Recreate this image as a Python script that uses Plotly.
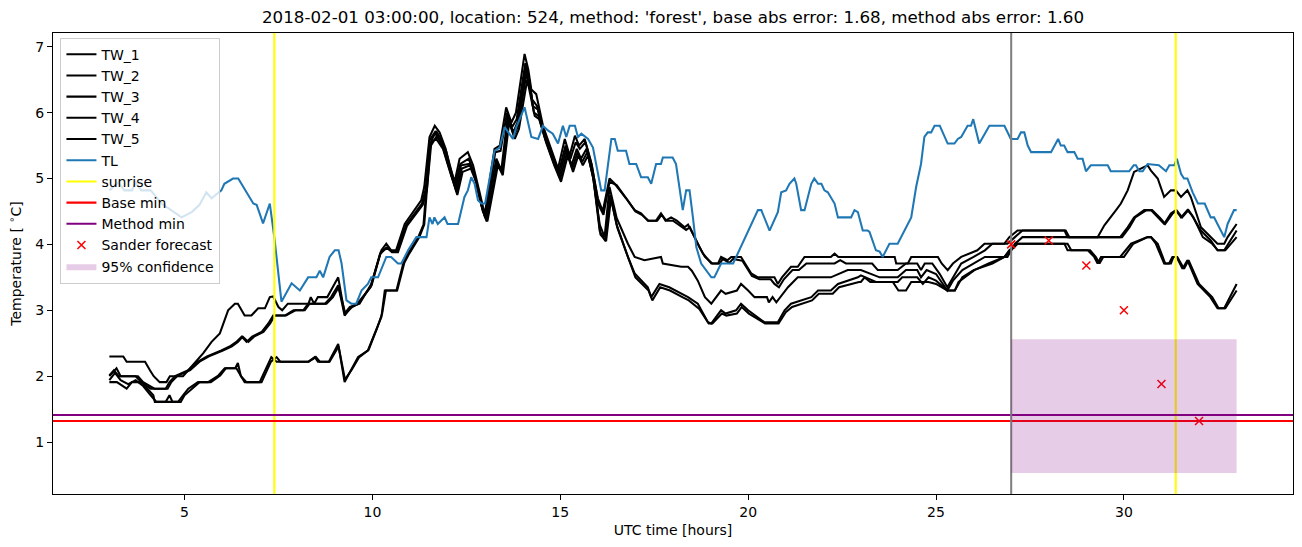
import plotly.graph_objects as go

# ---------------- data (hours UTC, temperature degC) ----------------
TW_1 = [(3.0,2.30),(3.37,2.30),(3.46,2.22),(3.95,2.22),(4.08,2.09),(4.18,2.0),(4.34,1.91),(4.52,1.91),(4.61,2.0),(4.96,2.0),(5.1,2.09),(5.27,2.2),(5.5,2.35),(5.72,2.52),(5.94,2.65),(6.16,3.0),(6.34,3.1),(6.42,3.1),(6.6,2.92),(6.78,2.92),(6.96,3.03),(7.14,3.03),(7.27,3.2),(7.36,3.21),(7.5,3.05),(7.6,3.0),(7.75,3.1),(8.3,3.1),(8.36,3.2),(8.45,3.1),(8.55,3.2),(8.8,3.2),(9.09,3.5),(9.26,2.95),(9.4,3.05),(9.66,3.1),(9.97,3.4),(10.24,3.91),(10.37,4.01),(10.5,3.91),(10.63,3.91),(10.86,4.31),(11.12,4.52),(11.3,4.67),(11.38,4.87),(11.52,5.63),(11.66,5.8),
        (11.79,5.7),(11.95,5.45),(12.05,5.2),(12.19,4.95),(12.32,5.3),(12.54,5.4),(12.68,5.2),(12.85,4.8),(12.99,4.45),(13.16,5.12),(13.25,5.45),(13.39,5.5),(13.56,6.08),(13.7,5.85),(13.82,6.0),(14.05,6.89),(14.15,6.65),(14.23,6.35),(14.36,6.28),(14.54,5.8),(14.75,5.45),(14.94,5.15),(15.12,5.6),(15.25,5.35),(15.39,5.65),(15.5,5.5),(15.65,5.6),(15.82,5.25),(16.0,4.7),(16.13,4.5),(16.31,5.0),
        (16.45,4.92),(16.75,4.7),(16.98,4.52),(17.15,4.47),(17.33,4.36),(17.55,4.36),(17.68,4.47),(17.8,4.36),(17.95,4.41),(18.1,4.36),(18.31,4.26),(18.4,4.3),(18.66,4.01),(18.8,3.86),(19.02,3.71),(19.2,3.71),(19.28,3.81),(19.45,3.76),(19.55,3.81),(19.81,3.81),(20.08,3.56),(20.26,3.5),(20.7,3.5),(20.79,3.40),(20.9,3.5),(21.14,3.66),(21.32,3.66),(21.5,3.81),(22.2,3.81),(22.3,3.86),(22.4,3.81),(23.0,3.81),
        (23.9,3.81),(23.94,3.71),(24.25,3.71),(24.34,3.81),(25.05,3.81),(25.15,3.71),(25.31,3.61),(25.45,3.71),(25.67,3.81),(26.1,3.91),(26.29,4.01),(26.82,4.01),(26.95,4.11),(27.17,4.21),(28.42,4.21),
        (28.5,4.11),(29.3,4.11),(29.48,4.29),(29.65,4.41),(29.79,4.52),(29.92,4.62),(30.1,4.82),(30.27,5.1),(30.45,5.15),(30.63,5.2),(30.72,5.12),(30.9,5.0),(31.07,4.72),(31.25,4.82),(31.38,4.82),(31.52,4.72),(31.69,4.82),(31.78,4.72),(32.05,4.26),(32.31,4.11),(32.49,4.01),(32.67,4.01),(32.76,4.11),(33.0,4.31)]

TW_2 = [(3.0,2.0),(3.19,2.12),(3.3,2.0),(3.76,2.0),(3.9,1.91),(4.2,1.81),(4.5,1.81),(4.6,1.91),(4.75,2.0),(5.1,2.09),(5.36,2.22),(5.6,2.3),(5.98,2.39),(6.2,2.45),(6.38,2.52),(6.52,2.6),(6.65,2.52),(6.8,2.6),(7.05,2.67),(7.23,2.8),(7.36,2.92),(7.67,2.92),(7.9,3.0),(8.16,3.0),(8.29,3.1),(8.74,3.1),(8.9,3.2),(9.09,3.38),(9.26,2.92),(9.44,3.05),(9.6,3.1),(9.95,3.35),(10.2,3.85),(10.37,3.95),(10.5,3.9),(10.65,3.9),(10.9,4.3),(11.15,4.5),(11.32,4.62),(11.42,4.85),(11.55,5.55),(11.7,5.72),
        (11.82,5.6),(11.97,5.4),(12.08,5.15),(12.2,4.9),(12.34,5.22),(12.56,5.3),(12.7,5.1),(12.87,4.7),(13.0,4.4),(13.18,5.05),(13.27,5.4),(13.41,5.42),(13.58,6.0),(13.72,5.78),(13.84,5.9),(14.07,6.75),(14.17,6.5),(14.25,6.2),(14.38,6.1),(14.56,5.7),(14.77,5.4),(14.96,5.1),(15.14,5.5),(15.27,5.3),(15.41,5.55),(15.52,5.45),(15.67,5.55),(15.84,5.2),(16.02,4.6),(16.15,4.45),(16.31,4.95),
        (16.5,4.9),(16.78,4.68),(17.0,4.5),(17.17,4.45),(17.35,4.36),(17.58,4.36),(17.7,4.45),(17.82,4.36),(18.0,4.36),(18.35,4.22),(18.45,4.26),(18.7,3.96),(18.85,3.81),(19.05,3.71),(19.25,3.71),(19.32,3.78),(19.5,3.72),(19.6,3.78),(19.85,3.75),(20.1,3.52),(20.3,3.47),(20.6,3.47),(20.7,3.40),(20.82,3.35),(20.95,3.47),(21.18,3.61),(21.35,3.61),(21.55,3.71),(22.3,3.71),(22.45,3.76),(22.6,3.71),(23.0,3.71),
        (23.3,3.71),(23.45,3.61),(23.98,3.61),(24.2,3.71),(24.5,3.71),(24.6,3.61),(24.7,3.71),(24.9,3.71),(25.1,3.55),(25.3,3.35),(25.45,3.5),(25.67,3.71),(26.0,3.81),(26.3,3.91),(26.5,4.01),(26.9,4.01),(27.1,4.11),(27.3,4.21),(28.45,4.21),
        (28.55,4.11),(29.9,4.11),(30.1,4.26),(30.27,4.41),(30.54,4.52),(30.72,4.52),(30.9,4.41),(31.07,4.31),(31.25,4.47),(31.38,4.52),(31.52,4.41),(31.69,4.52),(31.8,4.45),(32.05,4.21),(32.31,4.06),(32.49,3.91),(32.67,3.91),(32.9,4.11),(33.0,4.21)]

TW_3 = [(3.0,2.01),(3.12,2.09),(3.25,2.0),(3.7,2.0),(3.85,1.91),(4.1,1.81),(4.55,1.81),(4.65,1.91),(4.8,2.0),(5.15,2.09),(5.4,2.22),(5.65,2.3),(6.02,2.39),(6.25,2.45),(6.42,2.52),(6.55,2.6),(6.7,2.52),(6.85,2.6),(7.1,2.67),(7.28,2.8),(7.4,2.92),(7.7,2.92),(7.95,3.0),(8.2,3.0),(8.33,3.1),(8.78,3.1),(8.95,3.2),(9.1,3.35),(9.28,2.95),(9.46,3.05),(9.63,3.1),(9.98,3.38),(10.22,3.88),(10.4,3.95),(10.52,3.88),(10.68,3.88),(10.92,4.28),(11.18,4.48),(11.34,4.6),(11.45,4.82),(11.56,5.5),(11.72,5.65),
        (11.84,5.55),(12.0,5.3),(12.1,5.05),(12.22,4.85),(12.36,5.2),(12.58,5.22),(12.72,5.05),(12.9,4.6),(13.02,4.4),(13.2,5.0),(13.3,5.3),(13.43,5.12),(13.6,5.95),(13.75,5.7),(13.86,5.85),(14.09,6.7),(14.2,6.4),(14.27,6.1),(14.4,6.05),(14.58,5.65),(14.8,5.3),(14.98,5.05),(15.16,5.45),(15.3,5.2),(15.44,5.45),(15.55,5.3),(15.7,5.45),(15.86,5.07),(16.05,4.3),(16.18,4.11),(16.31,4.87),
        (16.5,4.4),(16.8,4.01),(16.98,3.81),(17.24,3.76),(17.68,3.81),(17.73,3.71),(18.22,3.66),(18.4,3.66),(18.5,3.6),(18.66,3.45),(18.85,3.2),(19.02,3.10),(19.28,3.30),(19.4,3.25),(19.7,3.3),(19.81,3.40),(20.0,3.3),(20.17,3.2),(20.5,3.2),(20.55,3.12),(20.65,3.2),(20.75,3.12),(21.06,3.35),(21.32,3.5),(22.2,3.5),(22.39,3.55),(22.65,3.61),(23.0,3.61),
        (23.5,3.5),(23.98,3.5),(24.2,3.61),(24.5,3.61),(24.6,3.5),(24.75,3.61),(25.0,3.55),(25.3,3.3),(25.45,3.45),(25.7,3.61),(26.0,3.71),(26.3,3.81),(26.9,3.81),(27.1,4.01),(27.3,4.11),(28.0,4.11),
        (28.5,4.11),(29.3,4.11),(29.95,4.11),(30.15,4.26),(30.3,4.41),(30.6,4.52),(30.75,4.52),(30.95,4.41),(31.1,4.31),(31.3,4.47),(31.4,4.52),(31.55,4.41),(31.72,4.52),(31.85,4.41),(32.1,4.11),(32.35,4.01),(32.5,3.91),(32.7,3.91),(33.0,4.11)]

TW_4 = [(3.0,1.91),(3.2,1.91),(3.46,1.81),(3.6,1.91),(3.85,1.91),(4.0,1.81),(4.17,1.71),(4.21,1.61),(4.83,1.61),(4.96,1.71),(5.1,1.81),(5.36,1.91),(5.63,1.91),(5.9,2.01),(6.07,2.12),(6.38,2.12),(6.5,2.01),(6.6,1.91),(7.0,1.91),(7.31,2.29),(7.45,2.22),(7.67,2.22),(8.3,2.22),(8.47,2.29),(8.55,2.22),(8.84,2.22),(9.09,2.49),(9.26,1.91),(9.4,2.05),(9.62,2.29),(9.88,2.39),(10.1,2.7),(10.24,2.9),(10.33,3.3),(10.64,3.3),(10.82,3.71),(10.95,3.86),(11.22,4.11),(11.36,4.3),(11.44,4.87),(11.52,5.58),
        (11.66,5.7),(11.86,5.5),(12.02,5.2),(12.12,5.0),(12.24,4.8),(12.38,5.15),(12.6,5.2),(12.74,5.0),(12.92,4.55),(13.04,4.35),(13.22,4.95),(13.32,5.25),(13.45,5.1),(13.62,5.9),(13.77,5.65),(13.88,5.8),(14.1,6.6),(14.22,6.3),(14.3,6.0),(14.42,5.95),(14.6,5.6),(14.82,5.25),(15.0,5.0),(15.18,5.4),(15.32,5.15),(15.46,5.4),(15.58,5.25),(15.72,5.4),(15.88,5.0),(16.05,4.2),(16.2,4.05),(16.33,4.75),
        (16.5,4.3),(16.8,3.81),(16.98,3.56),(17.33,3.35),(17.42,3.2),(17.64,3.40),(17.9,3.35),(18.22,3.25),(18.4,3.2),(18.66,3.10),(18.93,2.82),(19.02,2.80),(19.28,3.0),(19.4,2.95),(19.68,3.0),(19.81,3.1),(20.0,3.0),(20.43,2.82),(20.79,2.82),(20.97,3.0),(21.14,3.1),(21.68,3.2),(21.86,3.3),(22.2,3.3),(22.39,3.40),(22.92,3.5),(23.0,3.53),
        (23.4,3.43),(23.98,3.43),(24.1,3.5),(24.5,3.5),(24.65,3.4),(24.8,3.5),(25.0,3.45),(25.3,3.3),(25.5,3.3),(25.7,3.5),(26.0,3.61),(26.5,3.71),(26.82,3.81),(26.95,3.91),(27.17,4.01),(28.42,4.01),
        (28.5,3.91),(29.04,3.91),(29.21,3.81),(29.3,3.71),(29.39,3.81),(29.9,3.81),(30.19,4.01),(30.63,4.11),(30.72,4.11),(30.85,4.01),(31.07,3.71),(31.2,3.71),(31.29,3.81),(31.4,3.81),(31.56,3.63),(31.69,3.76),(31.96,3.40),(32.13,3.30),(32.3,3.2),(32.49,3.03),(32.67,3.03),(33.0,3.40)]

TW_5 = [(3.0,1.94),(3.15,2.05),(3.3,1.94),(3.5,1.88),(3.7,1.94),(3.9,1.85),(4.1,1.71),(4.25,1.61),(4.5,1.61),(4.6,1.71),(4.68,1.61),(4.9,1.61),(5.0,1.71),(5.2,1.81),(5.4,1.91),(5.7,1.91),(5.95,2.01),(6.1,2.12),(6.35,2.12),(6.42,2.2),(6.5,2.0),(6.65,1.91),(7.05,1.91),(7.3,2.22),(7.45,2.29),(7.55,2.22),(8.3,2.22),(8.5,2.29),(8.6,2.22),(8.86,2.22),(9.1,2.45),(9.27,1.95),(9.45,2.1),(9.65,2.29),(9.9,2.4),(10.12,2.72),(10.26,2.95),(10.36,3.3),(10.66,3.3),(10.85,3.72),(10.98,3.86),(11.25,4.11),(11.38,4.3),(11.46,4.9),(11.55,5.55),
        (11.7,5.6),(11.88,5.45),(12.04,5.15),(12.14,4.95),(12.26,4.75),(12.4,5.1),(12.62,5.15),(12.76,4.95),(12.94,4.5),(13.06,4.35),(13.24,4.9),(13.34,5.2),(13.47,5.05),(13.64,5.85),(13.79,5.6),(13.9,5.75),(14.12,6.5),(14.24,6.2),(14.32,5.95),(14.44,5.9),(14.62,5.55),(14.84,5.2),(15.02,4.95),(15.2,5.35),(15.34,5.1),(15.48,5.35),(15.6,5.2),(15.74,5.35),(15.9,4.95),(16.07,4.15),(16.22,4.05),(16.35,4.7),
        (16.52,4.25),(16.82,3.78),(17.0,3.5),(17.35,3.3),(17.45,3.15),(17.66,3.35),(17.92,3.3),(18.25,3.2),(18.42,3.15),(18.7,3.02),(18.95,2.8),(19.05,2.8),(19.3,2.95),(19.42,2.92),(19.7,2.95),(19.83,3.05),(20.02,2.95),(20.45,2.8),(20.81,2.8),(21.0,2.97),(21.17,3.05),(21.7,3.15),(21.88,3.25),(22.25,3.25),(22.42,3.35),(22.95,3.43),(23.0,3.43),
        (23.1,3.5),(23.25,3.43),(23.85,3.43),(24.0,3.30),(24.2,3.30),(24.34,3.43),(24.8,3.43),(25.0,3.4),(25.3,3.30),(25.5,3.30),(25.6,3.43),(26.02,3.61),(26.4,3.71),(26.82,3.81),(27.17,4.01),(28.5,4.01),
        (28.6,3.91),(29.1,3.91),(29.25,3.81),(29.35,3.71),(29.45,3.81),(30.0,3.81),(30.25,4.01),(30.63,4.11),(30.72,4.11),(30.9,4.01),(31.1,3.71),(31.25,3.71),(31.32,3.81),(31.42,3.81),(31.6,3.63),(31.72,3.76),(32.0,3.40),(32.18,3.30),(32.35,3.2),(32.52,3.03),(32.7,3.03),(33.0,3.30)]

TL = [(3.0,4.82),(3.24,4.94),(3.4,4.82),(3.6,4.82),(3.7,4.94),(3.85,4.82),(4.1,4.82),(4.39,4.62),(4.92,4.41),(5.19,4.49),(5.4,4.6),(5.58,4.79),(5.72,4.7),(5.98,4.82),(6.06,4.92),(6.29,5.0),(6.43,5.0),(6.83,4.62),(6.92,4.6),(7.09,4.32),(7.27,4.62),(7.40,4.06),(7.58,3.13),(7.85,3.41),(8.07,3.30),(8.29,3.5),(8.51,3.5),(8.6,3.6),(8.69,3.5),(8.86,3.81),(9.0,3.91),(9.1,3.91),(9.18,3.71),(9.31,3.15),(9.44,3.10),(9.57,3.1),(9.71,3.30),(9.88,3.40),(9.97,3.5),(10.15,3.5),(10.37,3.81),(10.5,3.81),(10.68,3.71),(10.77,3.71),(10.95,3.91),(11.17,4.11),(11.44,4.11),(11.52,4.41),(11.6,4.31),(11.65,4.41),(11.74,4.31),(11.92,4.41),(12.0,4.31),(12.28,4.31),(12.45,4.72),(12.54,4.82),(12.63,5.02),(12.72,4.92),(12.81,4.67),(12.9,4.62),(13.0,4.62),(13.25,5.42),(13.39,5.47),(13.52,5.78),(13.74,5.6),(13.83,5.78),(14.05,6.08),(14.23,5.63),(14.41,5.6),(14.54,5.8),(14.67,5.73),(14.8,5.68),(14.94,5.53),(15.07,5.8),(15.16,5.63),(15.25,5.8),(15.39,5.8),(15.47,5.63),(15.56,5.68),(15.74,5.6),(15.87,5.47),(16.09,4.82),(16.18,4.82),(16.36,5.6),(16.45,5.6),(16.53,5.42),(16.75,5.42),(16.84,5.22),(17.02,5.22),(17.15,5.02),(17.33,5.02),(17.42,4.92),(17.55,5.22),(17.68,5.22),(17.73,5.32),(17.99,5.32),(18.08,5.22),(18.17,4.87),(18.26,4.52),(18.35,4.82),(18.44,4.82),(18.53,4.41),(18.62,3.96),(18.75,3.71),(18.88,3.61),(19.02,3.5),(19.1,3.5),(19.28,3.71),(19.6,3.71),(19.81,3.96),(20.26,4.52),(20.35,4.52),(20.57,4.21),(20.79,4.49),(20.88,4.79),(21.01,4.82),(21.1,4.92),(21.23,5.0),(21.28,4.92),(21.41,4.52),(21.5,4.52),(21.68,4.92),(21.76,5.0),(21.86,4.92),(21.95,4.92),(22.03,4.82),(22.12,4.79),(22.3,4.62),(22.39,4.41),(22.74,4.41),(22.83,4.52),(22.92,4.49),(23.05,4.21),(23.18,4.21),(23.23,4.19),(23.4,3.91),(23.5,3.89),(23.58,3.81),(23.76,4.01),(23.98,4.01),(24.34,4.41),(24.47,4.87),(24.6,5.22),(24.69,5.63),(24.78,5.7),(24.87,5.7),(24.96,5.8),(25.1,5.8),(25.31,5.53),(25.49,5.53),(25.58,5.6),(25.67,5.63),(25.84,5.8),(25.93,5.8),(25.99,5.9),(26.15,5.53),(26.42,5.8),(26.82,5.8),(26.99,5.6),(27.17,5.6),(27.26,5.7),(27.35,5.7),(27.44,5.5),(27.53,5.4),(28.06,5.4),(28.25,5.6),(28.32,5.5),(28.41,5.5),(28.5,5.4),(28.68,5.4),(28.77,5.3),(28.9,5.3),(28.99,5.11),(29.12,5.2),(29.57,5.2),(29.65,5.11),(30.14,5.11),(30.26,5.2),(30.32,5.2),(30.41,5.11),(30.5,5.11),(30.63,5.22),(30.93,5.2),(31.12,5.11),(31.21,5.2),(31.34,5.2),(31.41,5.3),(31.52,5.07),(31.6,5.0),(31.69,5.0),(31.83,4.79),(31.97,4.62),(32.15,4.62),(32.31,4.41),(32.4,4.41),(32.49,4.31),(32.67,4.11),(32.76,4.31),(32.93,4.52),(33.0,4.52)]

SUNRISE_HOURS = [7.39, 31.38]
FORECAST_START = 27.0
BASE_MIN = 1.32
METHOD_MIN = 1.41
SANDER_HOURS = [27, 28, 29, 30, 31, 32]
SANDER_VALUES = [4.0, 4.06, 3.68, 3.0, 1.88, 1.32]
CONF_HOURS = [27.0, 33.0]
CONF_LOW, CONF_HIGH = 0.53, 2.56

X_RANGE = [1.5, 34.5]
Y_RANGE = [0.212, 7.208]
X_TICKS = [5, 10, 15, 20, 25, 30]
Y_TICKS = [1, 2, 3, 4, 5, 6, 7]

TITLE = ("2018-02-01 03:00:00, location: 524, method: 'forest', "
         "base abs error: 1.68, method abs error: 1.60")

# ---------------- figure ----------------
fig = go.Figure()
lw = 2.05

for name, series in [("TW_1", TW_1), ("TW_2", TW_2), ("TW_3", TW_3),
                     ("TW_4", TW_4), ("TW_5", TW_5)]:
    fig.add_trace(go.Scatter(x=[p[0] for p in series], y=[p[1] for p in series],
                             mode="lines", name=name,
                             line=dict(color="black", width=lw)))

fig.add_trace(go.Scatter(x=[p[0] for p in TL], y=[p[1] for p in TL], mode="lines",
                         name="TL", line=dict(color="#1f77b4", width=lw)))

sx, sy = [], []
for h in SUNRISE_HOURS:
    sx += [h, h, None]
    sy += [Y_RANGE[0], Y_RANGE[1], None]
fig.add_trace(go.Scatter(x=sx, y=sy, mode="lines", name="sunrise",
                         line=dict(color="#ffff00", width=lw)))

fig.add_trace(go.Scatter(x=X_RANGE, y=[BASE_MIN, BASE_MIN], mode="lines", name="Base min",
                         line=dict(color="red", width=lw)))
fig.add_trace(go.Scatter(x=X_RANGE, y=[METHOD_MIN, METHOD_MIN], mode="lines", name="Method min",
                         line=dict(color="purple", width=lw)))

fig.add_trace(go.Scatter(x=[FORECAST_START, FORECAST_START], y=Y_RANGE, mode="lines",
                         showlegend=False, line=dict(color="gray", width=lw)))

fig.add_trace(go.Scatter(x=SANDER_HOURS, y=SANDER_VALUES, mode="markers", name="Sander forecast",
                         marker=dict(symbol="x-thin", size=8, color="red",
                                     line=dict(color="red", width=1.5))))

fig.add_trace(go.Scatter(x=[CONF_HOURS[0], CONF_HOURS[1], CONF_HOURS[1], CONF_HOURS[0], CONF_HOURS[0]],
                         y=[CONF_LOW, CONF_LOW, CONF_HIGH, CONF_HIGH, CONF_LOW],
                         mode="lines", fill="toself", name="95% confidence",
                         fillcolor="rgba(128,0,128,0.2)", line=dict(width=0, color="rgba(0,0,0,0)")))

axis_common = dict(showline=True, linecolor="black", linewidth=1, mirror=True,
                   ticks="outside", ticklen=5, tickwidth=1, tickcolor="black",
                   showgrid=False, zeroline=False, tickfont=dict(size=14), automargin=False)

fig.update_xaxes(range=X_RANGE, tickvals=X_TICKS, title=dict(text="UTC time [hours]", standoff=6,
                 font=dict(size=14)), **axis_common)
fig.update_yaxes(range=Y_RANGE, tickvals=Y_TICKS,
                 title=dict(text="Temperature [ <sup>∘</sup>C]", standoff=10, font=dict(size=14)),
                 **axis_common)

fig.update_layout(
    width=1302, height=547,
    margin=dict(l=53, r=9, t=33, b=53),
    plot_bgcolor="white", paper_bgcolor="white",
    font=dict(family="DejaVu Sans", size=14, color="black"),
    title=dict(text=TITLE, x=0.5, xref="paper", xanchor="center",
               y=1 - 17 / 547, yref="container", yanchor="middle",
               font=dict(size=16.7)),
    legend=dict(x=0.006, y=0.99, xanchor="left", yanchor="top",
                bgcolor="rgba(255,255,255,0.8)", bordercolor="#cccccc", borderwidth=1,
                font=dict(size=14)),
)

fig.write_html("out.html", config={"displayModeBar": False},
               post_script="document.body.style.margin='0';document.body.style.overflow='hidden';")
